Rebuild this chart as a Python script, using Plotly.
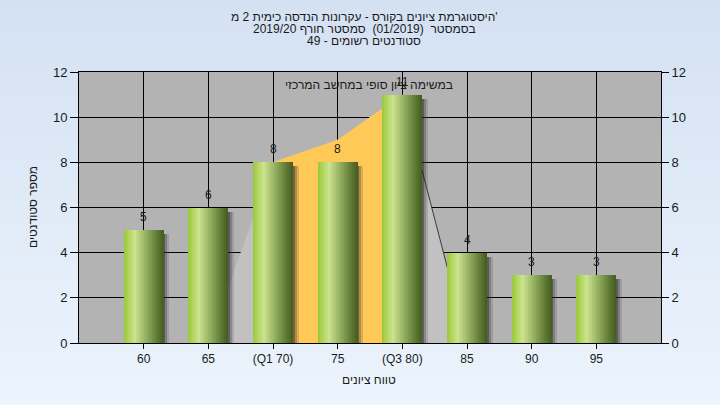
import base64, struct, zlib
import plotly.graph_objects as go

# ---------------- data ----------------
categories = ["60", "65", "(Q1 70)", "75", "(Q3 80)", "85", "90", "95"]
students = [5, 6, 8, 8, 11, 4, 3, 3]
# background distribution area (category index -> value)
area_idx = [1, 2, 3, 4, 5]
area_vals = [0, 8, 9, 11, 0]
iqr_idx = [2, 3, 4]
iqr_vals = [8, 9, 11]
title_lines = [
    "היסטוגרמת ציונים בקורס - עקרונות הנדסה כימית 2 מ'",
    "בסמסטר  (01/2019)  סמסטר חורף 2019/20",
    "סטודנטים רשומים - 49",
]
note_text = "במשימה ציון סופי במחשב המרכזי"
x_title = "טווח ציונים"
y_title = "מספר סטודנטים"

FONT = "Liberation Sans, Arial, DejaVu Sans, sans-serif"
TXT = "#1a1a1a"

# --------------- background gradient png ---------------
def gradient_png(h, top, bot):
    rows = b""
    for yy in range(h):
        t = yy / (h - 1)
        c = bytes(int(round(top[k] + (bot[k] - top[k]) * t)) for k in range(3))
        rows += b"\x00" + c
    def chunk(tag, data):
        return struct.pack(">I", len(data)) + tag + data + struct.pack(">I", zlib.crc32(tag + data) & 0xffffffff)
    png = b"\x89PNG\r\n\x1a\n"
    png += chunk(b"IHDR", struct.pack(">IIBBBBB", 1, h, 8, 2, 0, 0, 0))
    png += chunk(b"IDAT", zlib.compress(rows))
    png += chunk(b"IEND", b"")
    return "data:image/png;base64," + base64.b64encode(png).decode()

W, H = 720, 405
L, R, T, B = 79, 59, 72, 62
PW, PH = W - L - R, H - T - B

bg = gradient_png(H, (212, 225, 243), (236, 244, 252))

fig = go.Figure()

x = list(range(len(categories)))

# distribution area (light gray), IQR (orange) -- on base axis (drawn below)
fig.add_trace(go.Scatter(x=area_idx, y=area_vals, fill="tozeroy", mode="lines",
                         line=dict(width=0), fillcolor="#c1c1c1", hoverinfo="skip"))
fig.add_trace(go.Scatter(x=iqr_idx, y=iqr_vals, fill="tozeroy", mode="lines",
                         line=dict(width=0), fillcolor="#ffc957", hoverinfo="skip"))
fig.add_trace(go.Scatter(x=area_idx[-2:], y=area_vals[-2:], mode="lines",
                         line=dict(width=1, color="#3a3a3a"), hoverinfo="skip"))

BW = 0.62
# shadow (on overlaying axis so it sits above the areas)
shadow_cols = ["rgba(30,30,30,0.6)", "rgba(50,50,50,0.4)", "rgba(70,70,70,0.2)"]
for k, col in enumerate(shadow_cols):
    fig.add_trace(go.Bar(x=x, y=[v - 0.18 for v in students], width=0.03, yaxis="y2",
                         offset=BW / 2 + k * 0.03 - 0.005, marker=dict(color=col, line=dict(width=0)),
                         hoverinfo="skip"))

# cylinder gradient strips
stops = [(0.0, (152, 200, 60)), (0.12, (178, 214, 95)), (0.27, (204, 228, 146)),
         (0.42, (176, 200, 118)), (0.62, (135, 162, 88)), (0.82, (96, 124, 54)),
         (1.0, (68, 92, 30))]
def col_at(t):
    for (t0, c0), (t1, c1) in zip(stops[:-1], stops[1:]):
        if t0 <= t <= t1:
            f = (t - t0) / (t1 - t0)
            return "rgb(%d,%d,%d)" % tuple(int(c0[j] + (c1[j] - c0[j]) * f) for j in range(3))
    return "rgb(%d,%d,%d)" % stops[-1][1]

N = 20
sw = BW / N
for i in range(N):
    fig.add_trace(go.Bar(x=x, y=students, width=sw + (0.004 if i < N - 1 else 0),
                         offset=-BW / 2 + i * sw, yaxis="y2",
                         marker=dict(color=col_at((i + 0.5) / N), line=dict(width=0)),
                         hoverinfo="skip"))

# value labels
for xi, v in zip(x, students):
    fig.add_annotation(x=xi, y=v, text=str(v), showarrow=False, yshift=13,
                       font=dict(family=FONT, size=12, color=TXT))

# note text
fig.add_annotation(x=3.48, y=11.43, text=note_text, showarrow=False,
                   font=dict(family=FONT, size=12, color=TXT))

# titles
for ypix, line in zip([17, 29, 41], title_lines):
    fig.add_annotation(xref="paper", yref="paper", x=(364 - L) / PW, y=(343 - ypix) / PH,
                       text=line, showarrow=False, xanchor="center", yanchor="middle",
                       font=dict(family=FONT, size=12, color=TXT))
fig.add_annotation(xref="paper", yref="paper", x=(369 - L) / PW, y=(343 - 380) / PH,
                   text=x_title, showarrow=False, yanchor="middle",
                   font=dict(family=FONT, size=12, color=TXT))
fig.add_annotation(xref="paper", yref="paper", x=(33 - L) / PW, y=(343 - 207) / PH,
                   text=y_title, showarrow=False, textangle=-90, xanchor="center", yanchor="middle",
                   font=dict(family=FONT, size=12, color=TXT))

fig.update_layout(
    width=W, height=H,
    margin=dict(l=L, r=R, t=T, b=B, pad=0),
    paper_bgcolor="#e0eaf7",
    plot_bgcolor="rgba(0,0,0,0)",
    barmode="overlay",
    bargap=0,
    showlegend=False,
    images=[dict(source=bg, xref="paper", yref="paper", x=-L / PW, y=1 + T / PH,
                 sizex=W / PW, sizey=H / PH, sizing="stretch", layer="below",
                 xanchor="left", yanchor="top")],
    shapes=[dict(type="rect", xref="paper", yref="paper", x0=0, x1=1, y0=0, y1=1,
                 fillcolor="#b3b3b3", line=dict(width=0), layer="below")],
    xaxis=dict(range=[-1, 8], tickvals=x, ticktext=categories, showgrid=True,
               gridcolor="#000000", gridwidth=1, showline=True, linecolor="#000000",
               linewidth=1, mirror=True, ticks="outside", ticklen=5, tickcolor="#000000",
               tickfont=dict(family=FONT, size=12, color=TXT), zeroline=False),
    yaxis=dict(range=[0, 12], dtick=2, showgrid=True, gridcolor="#000000", gridwidth=1,
               showline=True, linecolor="#000000", linewidth=1, ticks="outside", ticklen=8,
               tickcolor="#000000", tickfont=dict(family=FONT, size=13, color=TXT),
               zeroline=False),
    yaxis2=dict(range=[0, 12], dtick=2, overlaying="y", side="right", showgrid=False,
                showline=True, linecolor="#000000", linewidth=1, ticks="outside", ticklen=7,
                tickcolor="#000000", tickfont=dict(family=FONT, size=13, color=TXT),
                zeroline=False),
)

fig.write_html("out.html", config={"displayModeBar": False},
               post_script="document.body.style.margin='0';")
